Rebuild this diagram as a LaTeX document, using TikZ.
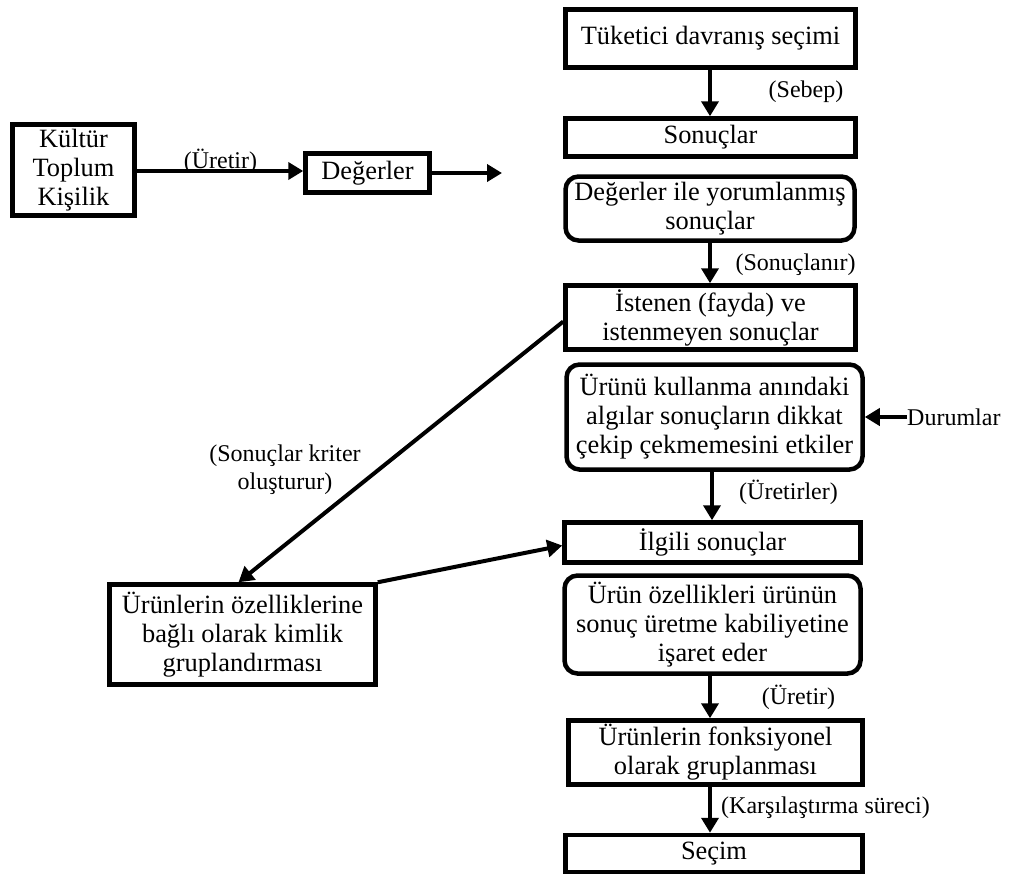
\documentclass[tikz,border=0pt]{standalone}
\usepackage{fontspec}
\setmainfont{Liberation Serif}
\usetikzlibrary{arrows.meta}
\begin{document}
\begin{tikzpicture}[x=1pt,y=-1pt,
  box/.style={draw, line width=4.5pt, inner sep=0pt, align=center,
    font=\fontsize{26.4}{29}\selectfont},
  rbox/.style={box, rounded corners=13pt},
  lbl/.style={inner sep=0pt, align=center, font=\fontsize{24}{28}\selectfont},
  arr/.style={line width=4pt, -{Triangle[length=15pt,width=17pt]}}]
\useasboundingbox (0,0) rectangle (1014,876);

% main column
\node[box, minimum width=290pt, minimum height=58pt] (b1) at (710.5,38.5) {Tüketici davranış seçimi};
\node[box, minimum width=290pt, minimum height=38pt] (b2) at (710.5,137.5) {Sonuçlar};
\node[rbox, minimum width=289pt, minimum height=64pt] (b3) at (710,208.5) {Değerler ile yorumlanmış\\sonuçlar};
\node[box, minimum width=290pt, minimum height=64pt] (b4) at (710.5,317.5) {İstenen (fayda) ve\\istenmeyen sonuçlar};
\node[rbox, minimum width=296pt, minimum height=105pt] (b5) at (714.5,417) {Ürünü kullanma anındaki\\algılar sonuçların dikkat\\çekip çekmemesini etkiler};
\node[box, minimum width=296pt, minimum height=40pt] (b6) at (712.5,542.5) {İlgili sonuçlar};
\node[rbox, minimum width=296pt, minimum height=98pt] (b7) at (712.5,624.5) {Ürün özellikleri ürünün\\sonuç üretme kabiliyetine\\işaret eder};
\node[box, minimum width=294pt, minimum height=64pt] (b8) at (715.5,752.5) {Ürünlerin fonksiyonel\\olarak gruplanması};
\node[box, minimum width=297pt, minimum height=37pt] (b9) at (714,853.5) {Seçim};

% left side
\node[box, minimum width=122pt, minimum height=91pt] (ktk) at (73.5,170) {Kültür\\Toplum\\Kişilik};
\node[box, minimum width=124pt, minimum height=39pt] (deg) at (367.5,173) {Değerler};
\node[box, minimum width=266pt, minimum height=100pt] (kim) at (242.5,634.5) {Ürünlerin özelliklerine\\bağlı olarak kimlik\\gruplandırması};
\node[lbl, anchor=west] (dur) at (907,417) {Durumlar};

% helper points
\coordinate (col) at (710,0);
\coordinate (colb) at (712,0);
\coordinate (degend) at (502,173);

% connectors
\draw[arr] (b1.south -| col) -- (b2.north -| col);
\draw[arr] (ktk.east |- 0,171) -- (deg.west |- 0,171);
\draw[arr] (deg.east) -- (degend);
\draw[arr] (b3.south -| col) -- (b4.north -| col);
\draw[arr] ([yshift=-4pt]b4.west) -- ([xshift=-4pt]kim.north);
\draw[arr] (dur.west) -- (b5.east);
\draw[arr] (b5.south -| colb) -- (b6.north -| colb);
\draw[arr] (kim.north east) -- ([yshift=-3pt]b6.west);
\draw[arr] (b7.south -| col) -- (b8.north -| col);
\draw[arr] (b8.south -| col) -- (b9.north -| col);

% connector labels
\node[lbl] (l1) at (806,92) {(Sebep)};
\node[lbl] (l2) at (220.5,161) {(Üretir)};
\node[lbl] (l3) at (795.5,265) {(Sonuçlanır)};
\node[lbl] (l4) at (285,470) {(Sonuçlar kriter\\oluşturur)};
\node[lbl] (l5) at (788.5,492) {(Üretirler)};
\node[lbl] (l6) at (798.5,697) {(Üretir)};
\node[lbl] (l7) at (825.5,808) {(Karşılaştırma süreci)};
\end{tikzpicture}
\end{document}
